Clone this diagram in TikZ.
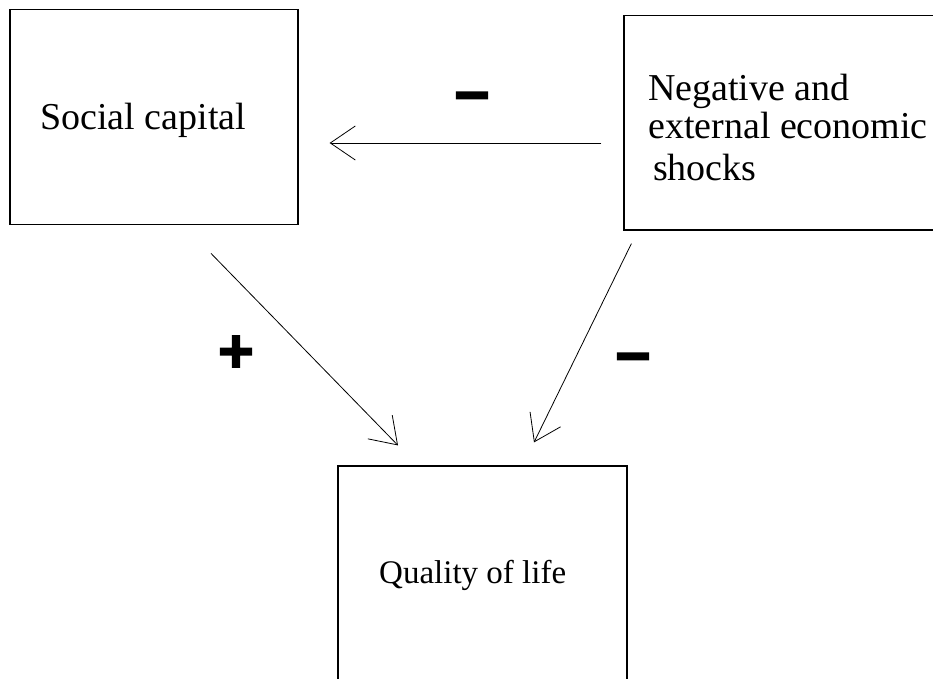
\documentclass[tikz,border=0pt]{standalone}
\usepackage{fontspec}
\setmainfont{Liberation Serif}
\newfontfamily\signfont{Liberation Sans Bold}[FakeBold=2]
\usetikzlibrary{arrows.meta,calc}

\tikzset{
    box/.style={draw, line width=1.2pt, inner sep=0pt},
    link/.style={line width=0.8pt, -{Straight Barb[length=25pt,width=34pt,line width=0.8pt]}},
    sign/.style={font=\signfont\fontsize{62}{62}\selectfont, inner sep=0pt},
    lbl/.style={font=\fontsize{38}{39}\selectfont, inner sep=0pt, anchor=base west, align=left},
}

\begin{document}
\begin{tikzpicture}[x=1pt, y=-1pt]
    % page frame
    \path[use as bounding box, fill=white] (0,0) rectangle (933,679);

    % the three boxes
    \node[box, minimum width=288pt, minimum height=215pt] (social) at (154,117.3) {};
    \node[box, minimum width=336pt, minimum height=214.5pt] (shocks) at (792,122.75) {};
    \node[box, minimum width=289pt, minimum height=234pt] (quality) at (482.5,583) {};

    % box texts (base of a multi-line node is its last line)
    \node[lbl] (socialtext) at (40,130) {Social capital};
    \node[lbl] (shockstext) at (648,180) {Negative and\\external economic\\[2pt]\hspace*{5pt}shocks};
    \node[lbl, font=\fontsize{33}{35}\selectfont] (qualitytext) at (379,583) {Quality of life};

    % effects
    \draw[link] ($(shocks.west)+(-22,20.25)$) -- ($(social.east)+(31,25.7)$);
    \draw[link] ($(social.south)+(57,28)$) -- ($(quality.north)+(-84.5,-20)$);
    \draw[link] ($(shocks.south west)+(8,13)$) -- ($(quality.north)+(51.5,-23)$);

    % signs of the effects
    \node[sign] (signtop) at (472,104) {−};
    \node[sign] (signleft) at (236,354) {+};
    \node[sign] (signright) at (633,365) {−};
\end{tikzpicture}
\end{document}
